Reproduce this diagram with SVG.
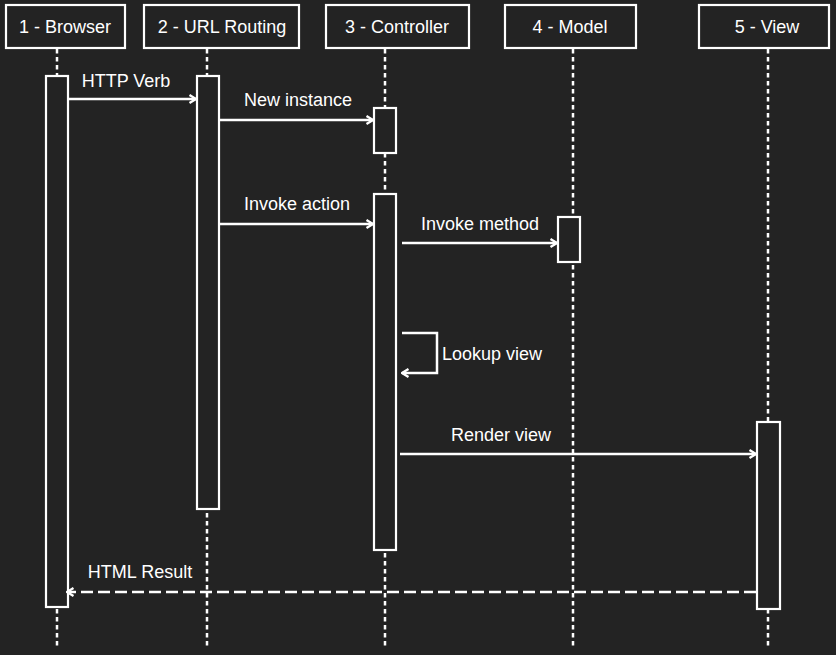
<svg xmlns="http://www.w3.org/2000/svg" width="836" height="655" viewBox="0 0 836 655">
<style>
.bg{fill:#232323}
.box{fill:#232323;stroke:#ffffff;stroke-width:2.2}
.life{stroke:#ffffff;stroke-width:2.5;stroke-dasharray:4.5 3.5;fill:none}
.msg{stroke:#ffffff;stroke-width:2.5;fill:none}
.ret{stroke:#ffffff;stroke-width:2.5;fill:none;stroke-dasharray:12 5}
text{font-family:"Liberation Sans",Arial,Helvetica,sans-serif;font-size:18px;fill:#ffffff;stroke:#232323;stroke-width:3;paint-order:stroke;stroke-linejoin:round}
.c{text-anchor:middle}
</style>
<defs>
<marker id="open" viewBox="0 0 10 10" refX="9" refY="5" markerWidth="10" markerHeight="10" markerUnits="userSpaceOnUse" orient="auto">
<path d="M2.5,1 L9,5 L2.5,9" fill="none" stroke="#ffffff" stroke-width="2.3"/>
</marker>
</defs>
<rect class="bg" x="0" y="0" width="836" height="655"/>
<g id="lifelines">
<line class="life" x1="57" y1="49" x2="57" y2="648"/>
<line class="life" x1="207" y1="49" x2="207" y2="648"/>
<line class="life" x1="385" y1="49" x2="385" y2="648"/>
<line class="life" x1="573" y1="49" x2="573" y2="648"/>
<line class="life" x1="768" y1="49" x2="768" y2="648"/>
</g>
<g id="browser">
<rect class="box" x="6" y="5" width="119" height="43"/>
<text class="c" x="65" y="33">1 - Browser</text>
<rect class="box" x="46" y="76" width="22" height="531"/>
</g>
<g id="routing">
<rect class="box" x="144" y="5" width="155" height="43"/>
<text class="c" x="222" y="33">2 - URL Routing</text>
<rect class="box" x="197" y="76" width="22" height="433"/>
</g>
<g id="controller">
<rect class="box" x="326" y="5" width="143" height="43"/>
<text class="c" x="397" y="33">3 - Controller</text>
<rect class="box" x="374" y="108" width="22" height="45"/>
<rect class="box" x="374" y="194" width="22" height="356"/>
</g>
<g id="model">
<rect class="box" x="505" y="5" width="131" height="43"/>
<text class="c" x="570" y="33">4 - Model</text>
<rect class="box" x="558" y="217" width="22" height="45"/>
</g>
<g id="view">
<rect class="box" x="699" y="5" width="130" height="43"/>
<text class="c" x="767" y="33">5 - View</text>
<rect class="box" x="757" y="422" width="23" height="187"/>
</g>
<g id="connectors">
<line class="msg" x1="69" y1="99" x2="196" y2="99" marker-end="url(#open)"/>
<line class="msg" x1="220" y1="120" x2="373" y2="120" marker-end="url(#open)"/>
<line class="msg" x1="220" y1="224" x2="373" y2="224" marker-end="url(#open)"/>
<line class="msg" x1="402" y1="243" x2="557" y2="243" marker-end="url(#open)"/>
<path class="msg" d="M402,333 H437 V373 H402" marker-end="url(#open)"/>
<line class="msg" x1="400" y1="454" x2="756" y2="454" marker-end="url(#open)"/>
<line class="ret" x1="756" y1="592" x2="67" y2="592" marker-end="url(#open)"/>
</g>
<g id="labels">
<text class="c" x="126" y="87">HTTP Verb</text>
<text class="c" x="298" y="106">New instance</text>
<text class="c" x="297" y="210">Invoke action</text>
<text class="c" x="480" y="230">Invoke method</text>
<text x="442" y="360">Lookup view</text>
<text class="c" x="501" y="441">Render view</text>
<text class="c" x="140" y="578">HTML Result</text>
</g>
</svg>
